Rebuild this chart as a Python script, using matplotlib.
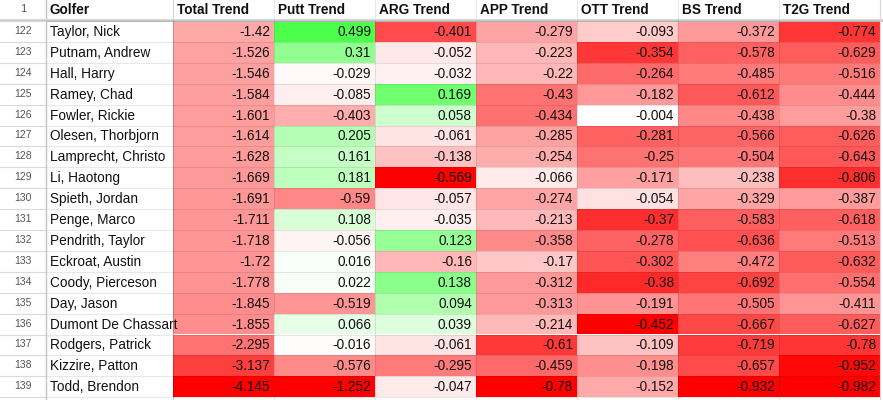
import numpy as np
import matplotlib
matplotlib.use("Agg")
import matplotlib.pyplot as plt
from matplotlib.patches import Rectangle

plt.rcParams['font.family'] = ['Liberation Sans', 'DejaVu Sans']

# data read from the sheet
row_numbers = list(range(122, 140))
golfers = ["Taylor, Nick", "Putnam, Andrew", "Hall, Harry", "Ramey, Chad",
           "Fowler, Rickie", "Olesen, Thorbjorn", "Lamprecht, Christo",
           "Li, Haotong", "Spieth, Jordan", "Penge, Marco", "Pendrith, Taylor",
           "Eckroat, Austin", "Coody, Pierceson", "Day, Jason",
           "Dumont De Chassart", "Rodgers, Patrick", "Kizzire, Patton",
           "Todd, Brendon"]
headers = ["Golfer", "Total Trend", "Putt Trend", "ARG Trend", "APP Trend",
           "OTT Trend", "BS Trend", "T2G Trend"]
total_trend = [-1.42, -1.526, -1.546, -1.584, -1.601, -1.614, -1.628, -1.669, -1.691,
               -1.711, -1.718, -1.72, -1.778, -1.845, -1.855, -2.295, -3.137, -4.145]
putt_trend = [0.499, 0.31, -0.029, -0.085, -0.403, 0.205, 0.161, 0.181, -0.59,
              0.108, -0.056, 0.016, 0.022, -0.519, 0.066, -0.016, -0.576, -1.252]
arg_trend = [-0.401, -0.052, -0.032, 0.169, 0.058, -0.061, -0.138, -0.569, -0.057,
             -0.035, 0.123, -0.16, 0.138, 0.094, 0.039, -0.061, -0.295, -0.047]
app_trend = [-0.279, -0.223, -0.22, -0.43, -0.434, -0.285, -0.254, -0.066, -0.274,
             -0.213, -0.358, -0.17, -0.312, -0.313, -0.214, -0.61, -0.459, -0.78]
ott_trend = [-0.093, -0.354, -0.264, -0.182, -0.004, -0.281, -0.25, -0.171, -0.054,
             -0.37, -0.278, -0.302, -0.38, -0.191, -0.452, -0.109, -0.198, -0.152]
bs_trend = [-0.372, -0.578, -0.485, -0.612, -0.438, -0.566, -0.504, -0.238, -0.329,
            -0.583, -0.636, -0.472, -0.692, -0.505, -0.667, -0.719, -0.657, -0.932]
t2g_trend = [-0.774, -0.629, -0.516, -0.444, -0.38, -0.626, -0.643, -0.806, -0.387,
             -0.618, -0.513, -0.632, -0.554, -0.411, -0.627, -0.78, -0.952, -0.982]

columns = [total_trend, putt_trend, arg_trend, app_trend, ott_trend, bs_trend, t2g_trend]
# green end of each column's scale (full sheet has bigger values than shown)
green_max = [1.0, 0.71, 0.30, 0.5, 0.5, 0.5, 0.5]

# layout in pixels
W, H = 883, 400
num_w = 45.5
name_w = 127.5
col_w = 101
header_h = 19.5
row_top = 21
row_h = 20.9

fig = plt.figure(figsize=(W / 100, H / 100), dpi=100)
ax = fig.add_axes([0, 0, 1, 1])
ax.set_xlim(0, W)
ax.set_ylim(H, 0)
ax.axis('off')


def cell_color(v, vmin, vmax):
    if v < 0:
        f = min(v / vmin, 1.0)
        return (1.0, 1 - f, 1 - f)
    f = min(v / vmax, 1.0)
    return (1 - f, 1.0, 1 - f)


grid = '#dadada'
data_x0 = num_w + name_w
right = data_x0 + col_w * len(columns)

# colored cells
for j, vals in enumerate(columns):
    vmin = min(vals)
    x0 = data_x0 + j * col_w
    for i, v in enumerate(vals):
        y0 = row_top + i * row_h
        ax.add_patch(Rectangle((x0, y0), col_w, row_h, facecolor=cell_color(v, vmin, green_max[j]),
                               edgecolor='none'))
        ax.text(x0 + col_w - 4, y0 + row_h / 2 + 0.5, f"{v:g}", ha='right', va='center',
                fontsize=9.8, color='#111111')

# grid lines
n = len(golfers)
for i in range(n + 1):
    y = row_top + i * row_h
    ax.plot([num_w, right], [y, y], color=(0, 0, 0, 0.09), lw=0.8)
    ax.plot([0, num_w], [y, y], color='#dadada', lw=0.8)
for k in range(len(columns) + 2):
    x = num_w + name_w + (k - 1) * col_w if k > 0 else num_w + name_w
    if k == 0:
        x = num_w + name_w
    ax.plot([x, x], [0, H], color=(0, 0, 0, 0.09), lw=0.8)
ax.plot([num_w, num_w], [0, H], color='#c4c4c4', lw=1.0)
ax.plot([right, right], [0, H], color='#dadada', lw=0.8)
ax.plot([0, W], [header_h / 2 + 9.3, header_h / 2 + 9.3], color='#dadada', lw=0.8)

# frozen header separator
ax.add_patch(Rectangle((0, 18.6), W, 3.4, facecolor='#c6c6c6', edgecolor='none'))

# header texts
ax.text(num_w / 2, 9, "1", ha='center', va='center', fontsize=8, color='#555555')
ax.text(num_w + 4, 9.5, headers[0], ha='left', va='center', fontsize=9.8,
        fontweight='bold', color='#111111')
for j in range(len(columns)):
    ax.text(data_x0 + j * col_w + 4, 9.5, headers[j + 1], ha='left', va='center',
            fontsize=9.8, fontweight='bold', color='#111111')

# row numbers and names
for i in range(n):
    yc = row_top + i * row_h + row_h / 2 + 0.5
    ax.text(num_w / 2, yc - 1, str(row_numbers[i]), ha='center', va='center',
            fontsize=7.5, color='#555555')
    t = ax.text(num_w + 4, yc, golfers[i], ha='left', va='center', fontsize=9.8,
                color='#111111')
    clip = Rectangle((num_w, row_top + i * row_h), name_w, row_h, transform=ax.transData)
    t.set_clip_path(clip)

fig.savefig("out.png", dpi=100)
